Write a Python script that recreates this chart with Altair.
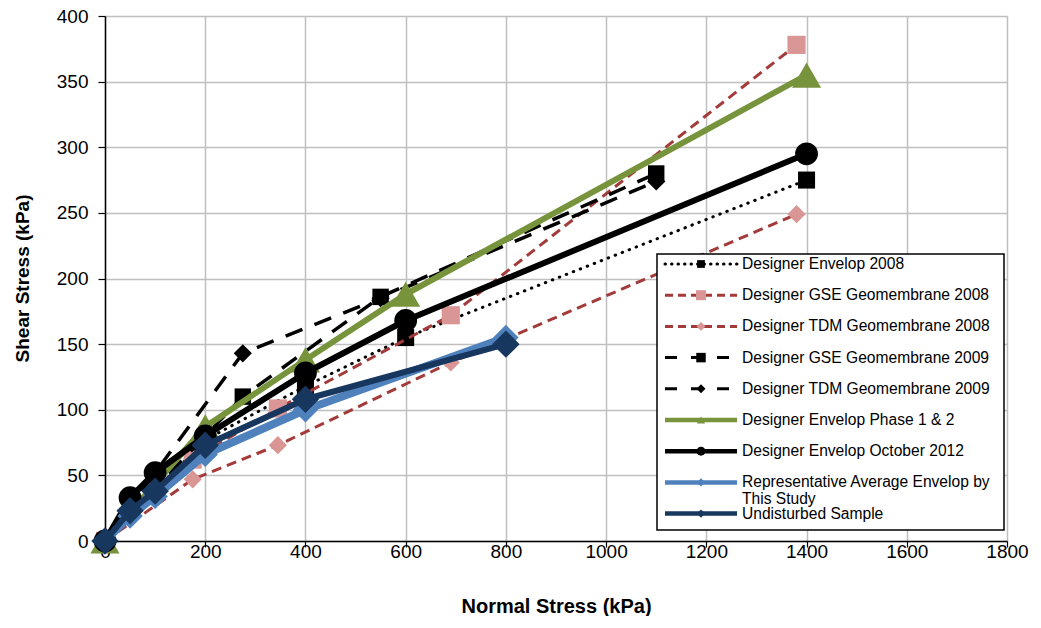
import altair as alt
import pandas as pd

# ---------------- data ----------------
series_names = [
    "Designer Envelop 2008",
    "Designer GSE Geomembrane 2008",
    "Designer TDM Geomembrane 2008",
    "Designer GSE Geomembrane 2009",
    "Designer TDM Geomembrane 2009",
    "Designer Envelop Phase 1 & 2",
    "Designer Envelop October 2012",
    "Representative Average Envelop by\nThis Study",
    "Undisturbed Sample",
]

x_env08 = [0, 200, 400, 600, 1400]
y_env08 = [0, 77, 118, 155, 275]

x_gse08 = [0, 175, 345, 690, 1380]
y_gse08 = [0, 62, 101, 172, 378]

x_tdm08 = [0, 175, 345, 690, 1380]
y_tdm08 = [0, 47, 73, 136, 249]

x_gse09 = [0, 275, 550, 1100]
y_gse09 = [0, 110, 186, 280]

x_tdm09 = [0, 275, 550, 1100]
y_tdm09 = [0, 143, 185, 274]

x_ph12 = [0, 200, 400, 600, 1400]
y_ph12 = [0, 87, 138, 188, 355]

x_oct12 = [0, 50, 100, 200, 400, 600, 1400]
y_oct12 = [0, 33, 52, 80, 128, 168, 295]

x_rep = [0, 50, 100, 200, 400, 800]
y_rep = [0, 19, 34, 66, 100, 155]

x_und = [0, 50, 100, 200, 400, 800]
y_und = [0, 23, 38, 73, 108, 150]

x_ticks = [0, 200, 400, 600, 800, 1000, 1200, 1400, 1600, 1800]
y_ticks = [0, 50, 100, 150, 200, 250, 300, 350, 400]

series_data = [
    (x_env08, y_env08), (x_gse08, y_gse08), (x_tdm08, y_tdm08),
    (x_gse09, y_gse09), (x_tdm09, y_tdm09), (x_ph12, y_ph12),
    (x_oct12, y_oct12), (x_rep, y_rep), (x_und, y_und),
]

# ---------------- styles ----------------
BROWN = "#A23B3A"
PINK = "#D99694"
GREEN = "#77933C"
BLUE = "#4F81BD"
NAVY = "#17375E"
FONT = "Liberation Sans"

styles = [
    dict(line="black", w=3, dash=[0.5, 7], cap="round", shape="square", mcol="black", ms=290, lw=3, ldash=[0.5, 6], lms=60),
    dict(line=BROWN, w=3, dash=[10, 6], cap="butt", shape="square", mcol=PINK, ms=330, lw=3, ldash=[8, 5], lms=100),
    dict(line=BROWN, w=3, dash=[10, 6], cap="butt", shape="diamond", mcol=PINK, ms=330, lw=3, ldash=[8, 5], lms=80),
    dict(line="black", w=3.5, dash=[18, 13], cap="butt", shape="square", mcol="black", ms=270, lw=3, ldash=[12, 14], lms=90),
    dict(line="black", w=3.5, dash=[18, 13], cap="butt", shape="diamond", mcol="black", ms=330, lw=3, ldash=[12, 14], lms=80),
    dict(line=GREEN, w=6, dash=None, cap="butt", shape="triangle-up", mcol=GREEN, ms=850, lw=4.5, ldash=None, lms=70),
    dict(line="black", w=6, dash=None, cap="butt", shape="circle", mcol="black", ms=520, lw=4.5, ldash=None, lms=80),
    dict(line=BLUE, w=8, dash=None, cap="butt", shape="diamond", mcol=BLUE, ms=650, lw=4.5, ldash=None, lms=70),
    dict(line=NAVY, w=6, dash=None, cap="butt", shape="diamond", mcol=NAVY, ms=750, lw=4.5, ldash=None, lms=70),
]

W, H = 902, 525

x_enc = alt.X(
    "x:Q",
    scale=alt.Scale(domain=[0, 1800], nice=False, zero=False),
    axis=alt.Axis(
        values=x_ticks, format="d", title="Normal Stress (kPa)", grid=True,
        gridColor="#BFBFBF", gridWidth=1.5, domainColor="black", domainWidth=1.5,
        tickColor="black", tickSize=6, tickWidth=1.2, labelFontSize=19,
        labelFont=FONT, labelColor="black", labelPadding=-5, labelFlush=False,
        titleFont=FONT, titleFontSize=20, titleFontWeight="bold", titleColor="black",
        titleX=451, titleY=65, titleBaseline="middle", titleAlign="center",
    ),
)
y_enc = alt.Y(
    "y:Q",
    scale=alt.Scale(domain=[0, 400], nice=False, zero=False),
    axis=alt.Axis(
        values=y_ticks, format="d", title="Shear Stress (kPa)", grid=True,
        gridColor="#BFBFBF", gridWidth=1.5, domainColor="black", domainWidth=1.5,
        tickColor="black", tickSize=7, tickWidth=1.2, labelFontSize=19,
        labelFont=FONT, labelColor="black", labelPadding=10, labelFlush=False,
        titleFont=FONT, titleFontSize=19, titleFontWeight="bold", titleColor="black",
        titleX=-83, titleY=262, titleAngle=-90, titleBaseline="middle", titleAlign="center",
    ),
)

layers = []
for (xs, ys), st in zip(series_data, styles):
    df = pd.DataFrame({"x": xs, "y": ys})
    line_kw = dict(color=st["line"], strokeWidth=st["w"], clip=False,
                   strokeJoin="round", strokeCap=st["cap"])
    if st["dash"]:
        line_kw["strokeDash"] = st["dash"]
    ln = alt.Chart(df).mark_line(**line_kw).encode(x=x_enc, y=y_enc)
    pt = alt.Chart(df).mark_point(
        shape=st["shape"], filled=True, size=st["ms"], color=st["mcol"], opacity=1, clip=False
    ).encode(x=x_enc, y=y_enc)
    layers += [ln, pt]

# ---------------- legend box (drawn inside plot) ----------------
one = pd.DataFrame({"k": [0]})
box_x0, box_x1, box_y0, box_y1 = 552, 899, 238, 514
layers.append(
    alt.Chart(one).mark_rect(fill="white", stroke="black", strokeWidth=1.5).encode(
        x=alt.value(box_x0), x2=alt.value(box_x1), y=alt.value(box_y0), y2=alt.value(box_y1)
    )
)
row0, step = 248, 31.2
for i, (name, st) in enumerate(zip(series_names, styles)):
    ly = row0 + i * step
    rule_kw = dict(color=st["line"], strokeWidth=st["lw"], strokeCap=st["cap"])
    if st["ldash"]:
        rule_kw["strokeDash"] = st["ldash"]
    layers.append(
        alt.Chart(one).mark_rule(**rule_kw).encode(
            x=alt.value(560), x2=alt.value(632), y=alt.value(ly)
        )
    )
    layers.append(
        alt.Chart(one).mark_point(
            shape=st["shape"], filled=True, size=st["lms"], color=st["mcol"], opacity=1
        ).encode(x=alt.value(596), y=alt.value(ly))
    )
    for k, part in enumerate(name.split("\n")):
        layers.append(
            alt.Chart(one).mark_text(
                align="left", baseline="middle", fontSize=15.6, font=FONT, color="black"
            ).encode(x=alt.value(637), y=alt.value(ly + k * 17), text=alt.value(part))
        )

chart = alt.layer(*layers).properties(
    width=W, height=H,
    autosize=alt.AutoSizeParams(type="none"),
    padding={"left": 97, "top": 8, "right": 26, "bottom": 75},
).configure_view(stroke=None).configure(background="white")

chart.save("out.html", embed_options={"renderer": "svg", "actions": False})
